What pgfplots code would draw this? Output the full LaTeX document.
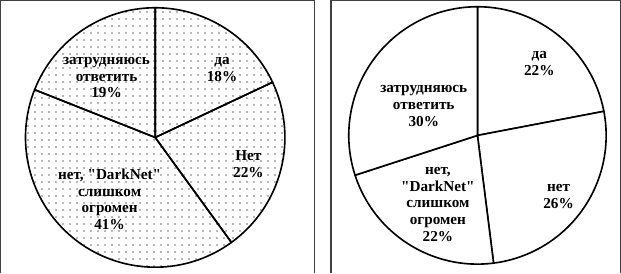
\documentclass[border=0pt]{standalone}
\usepackage{pgfplots}
\pgfplotsset{compat=1.18}
\usepackage{pgfplotstable}
\usetikzlibrary{patterns.meta}
\usepackage{fontspec}
\setmainfont{Liberation Serif}
\newfontfamily\lblfont{Liberation Serif}[BoldFont={Liberation Serif Bold}]

\pgfplotstableread{
value
18
22
41
19
}\pieA
\pgfplotstableread{
value
22
26
22
30
}\pieB

\tikzdeclarepattern{
  name=sparsedots,
  type=uncolored,
  bottom left={(-0.5pt,-0.5pt)},
  top right={(6.5pt,6.5pt)},
  tile size={(7pt,7pt)},
  code={\pgfpathrectangle{\pgfpointorigin}{\pgfpoint{1.3pt}{1.3pt}}\pgfusepath{fill}}
}

\newcommand\computeangles[2]{%
  \xdef\cumsum{0}%
  \foreach \i in {0,1,2,3}{%
    \pgfplotstablegetelem{\i}{value}\of#1%
    \pgfmathsetmacro\s{90-3.6*\cumsum}%
    \pgfmathsetmacro\n{\cumsum+\pgfplotsretval}%
    \pgfmathsetmacro\e{90-3.6*\n}%
    \expandafter\xdef\csname #2\i s\endcsname{\s}%
    \expandafter\xdef\csname #2\i e\endcsname{\e}%
    \xdef\cumsum{\n}%
  }%
}
\computeangles{\pieA}{A}
\computeangles{\pieB}{B}
\newcommand\q{\symbol{34}}

\begin{document}
\begin{tikzpicture}
\begin{axis}[
  x=1pt, y=1pt, scale only axis,
  xmin=0, xmax=621, ymin=0, ymax=278,
  hide axis, clip=true,
]
% frames
\draw[line width=1.3pt, black!75] (axis cs:8.5,0) -- (axis cs:8.5,269) -- (axis cs:318,269) -- (axis cs:318,0);
\draw[line width=1.3pt, black!75] (axis cs:334.5,0) -- (axis cs:334.5,269) -- (axis cs:620,269) -- (axis cs:620,0);
% left pie
\pgfplotsinvokeforeach{0,1,2,3}{
  \fill[white] (axis cs:161,134) -- ++(\csname A#1s\endcsname:128pt) arc[start angle=\csname A#1s\endcsname, end angle=\csname A#1e\endcsname, radius=128pt] -- cycle;
  \fill[pattern=sparsedots, pattern color=black!65] (axis cs:161,134) -- ++(\csname A#1s\endcsname:128pt) arc[start angle=\csname A#1s\endcsname, end angle=\csname A#1e\endcsname, radius=128pt] -- cycle;
}
\pgfplotsinvokeforeach{0,1,2,3}{
  \draw[line width=1.6pt, line join=round] (axis cs:161,134) -- ++(\csname A#1s\endcsname:128pt) arc[start angle=\csname A#1s\endcsname, end angle=\csname A#1e\endcsname, radius=128pt] -- cycle;
}
% right pie
\pgfplotsinvokeforeach{0,1,2,3}{
  \filldraw[fill=white, line width=1.6pt, line join=round] (axis cs:479,136) -- ++(\csname B#1s\endcsname:127pt) arc[start angle=\csname B#1s\endcsname, end angle=\csname B#1e\endcsname, radius=127pt] -- cycle;
}
% labels
\tikzset{lbl/.style={align=center, font=\lblfont\bfseries\fontsize{15}{16.5}\selectfont, inner sep=0pt}}
\node[lbl] at (axis cs:227,201) {да\\18\%};
\node[lbl] at (axis cs:253,108) {Нет\\22\%};
\node[lbl] at (axis cs:116,73) {нет, \q DarkNet\q\\слишком\\огромен\\41\%};
\node[lbl] at (axis cs:113,193) {затрудняюсь\\ответить\\19\%};
\node[lbl] at (axis cs:540,207) {да\\22\%};
\node[lbl] at (axis cs:559,76) {нет\\26\%};
\node[lbl] at (axis cs:440,68) {нет,\\\q DarkNet\q\\слишком\\огромен\\22\%};
\node[lbl] at (axis cs:426,165) {затрудняюсь\\ответить\\30\%};
\end{axis}
\end{tikzpicture}
\end{document}
